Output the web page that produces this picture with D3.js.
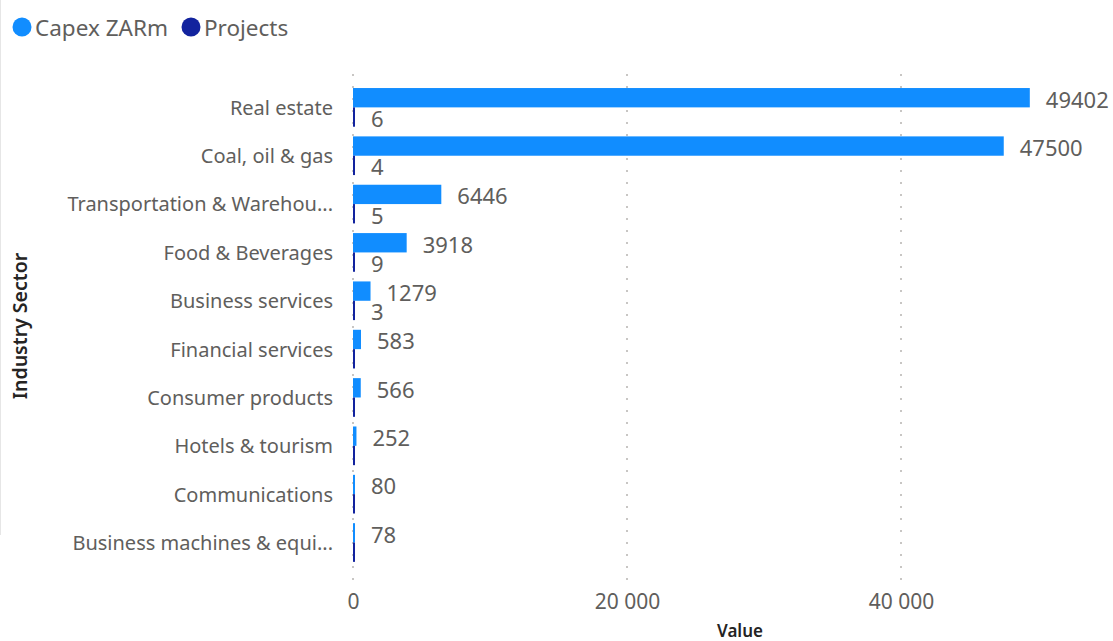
<!DOCTYPE html>
<html>
<head>
<meta charset="utf-8">
<script src="https://cdn.jsdelivr.net/npm/d3@7"></script>
<style>
  html, body { margin: 0; padding: 0; background: #ffffff; }
  svg { display: block; font-family: "Noto Sans", "Open Sans", sans-serif; }
</style>
</head>
<body>
<svg id="chart" width="1113" height="641"></svg>
<script>
// Industry sectors with capital expenditure (ZAR millions) and project counts
const sectors = [
  "Real estate",
  "Coal, oil & gas",
  "Transportation & Warehou...",
  "Food & Beverages",
  "Business services",
  "Financial services",
  "Consumer products",
  "Hotels & tourism",
  "Communications",
  "Business machines & equi..."
];
const capex = [49402, 47500, 6446, 3918, 1279, 583, 566, 252, 80, 78];
const projects = [6, 4, 5, 9, 3, null, null, null, null, null];
const projectsBars = [6, 4, 5, 9, 3, 1, 1, 1, 1, 1];
const seriesNames = ["Capex ZARm", "Projects"];
const xTicks = [0, 20000, 40000];

const colors = { capex: "#118DFF", projects: "#12239E" };

const svg = d3.select("#chart");

// Scales
const x = d3.scaleLinear().domain([0, 20000]).range([353, 627]);
const y = d3.scaleBand().domain(sectors).range([83.2, 566.7])
  .paddingInner(0.2).paddingOuter(0.1);
const sub = d3.scaleBand().domain(seriesNames).range([0, y.bandwidth()]);

// Thin frame line on the left edge
svg.append("line")
  .attr("x1", 0.5).attr("x2", 0.5).attr("y1", 0).attr("y2", 535)
  .attr("stroke", "#e6e6e6").attr("stroke-width", 1);

// Dotted vertical gridlines
svg.append("g").selectAll("line")
  .data(xTicks)
  .join("line")
  .attr("x1", d => x(d)).attr("x2", d => x(d))
  .attr("y1", 74).attr("y2", 583)
  .attr("stroke", "#c8c6c4")
  .attr("stroke-width", 2)
  .attr("stroke-dasharray", "2,10");

// X axis tick labels
const xAxis = d3.axisBottom(x)
  .tickValues(xTicks)
  .tickSize(0)
  .tickPadding(0)
  .tickFormat(d => d3.format(",")(d).replace(/,/g, " "));
const gx = svg.append("g").attr("transform", "translate(0,594)").call(xAxis);
gx.select(".domain").remove();
gx.selectAll("text")
  .attr("dy", "0.71em")
  .attr("fill", "#605e5c")
  .style("font-size", "21px")
  .style("font-family", "'Noto Sans', sans-serif");

// Y axis category labels
const yAxis = d3.axisLeft(y).tickSize(0).tickPadding(0);
const gy = svg.append("g").attr("transform", "translate(333,1)").call(yAxis);
gy.select(".domain").remove();
gy.selectAll("text")
  .attr("fill", "#605e5c")
  .style("font-size", "20px")
  .style("font-family", "'Noto Sans', sans-serif");

// Bars
const rows = sectors.map((s, i) => ({ s, capex: capex[i], proj: projects[i], projBar: projectsBars[i] }));
const groups = svg.append("g").selectAll("g")
  .data(rows)
  .join("g")
  .attr("transform", d => `translate(0,${y(d.s)})`);

groups.append("rect")
  .attr("x", x(0))
  .attr("y", sub("Capex ZARm"))
  .attr("height", sub.bandwidth())
  .attr("width", d => Math.max(2, x(d.capex) - x(0)))
  .attr("fill", colors.capex);

groups.append("rect")
  .attr("x", x(0))
  .attr("y", sub("Projects"))
  .attr("height", sub.bandwidth())
  .attr("width", d => Math.max(2, x(d.projBar) - x(0)))
  .attr("fill", colors.projects);

// Data labels
groups.append("text")
  .attr("x", d => Math.max(x(0) + 2, x(d.capex)) + 16)
  .attr("y", sub("Capex ZARm") + sub.bandwidth() / 2 + 2)
  .attr("dy", "0.36em")
  .attr("fill", "#605e5c")
  .style("font-size", "22px")
  .text(d => d.capex);

groups.filter(d => d.proj != null).append("text")
  .attr("x", d => Math.max(x(0) + 2, x(d.proj)) + 16)
  .attr("y", sub("Projects") + sub.bandwidth() / 2 + 2)
  .attr("dy", "0.36em")
  .attr("fill", "#605e5c")
  .style("font-size", "22px")
  .text(d => d.proj);

// Axis titles
svg.append("text")
  .attr("transform", "translate(27,326) rotate(-90)")
  .attr("text-anchor", "middle")
  .attr("fill", "#252423")
  .style("font-size", "19.5px")
  .style("font-weight", "600")
  .text("Industry Sector");

svg.append("text")
  .attr("x", 740).attr("y", 637)
  .attr("text-anchor", "middle")
  .attr("fill", "#252423")
  .style("font-size", "17px")
  .style("font-weight", "600")
  .text("Value");

// Legend
const legend = svg.append("g");
const legendX = [22, 191];
seriesNames.forEach((name, i) => {
  legend.append("circle")
    .attr("cx", legendX[i]).attr("cy", 27).attr("r", 9.5)
    .attr("fill", i === 0 ? colors.capex : colors.projects);
  legend.append("text")
    .attr("x", legendX[i] + 13).attr("y", 28)
    .attr("dy", "0.36em")
    .attr("fill", "#605e5c")
    .style("font-size", "22.5px")
    .text(name);
});
</script>
</body>
</html>
